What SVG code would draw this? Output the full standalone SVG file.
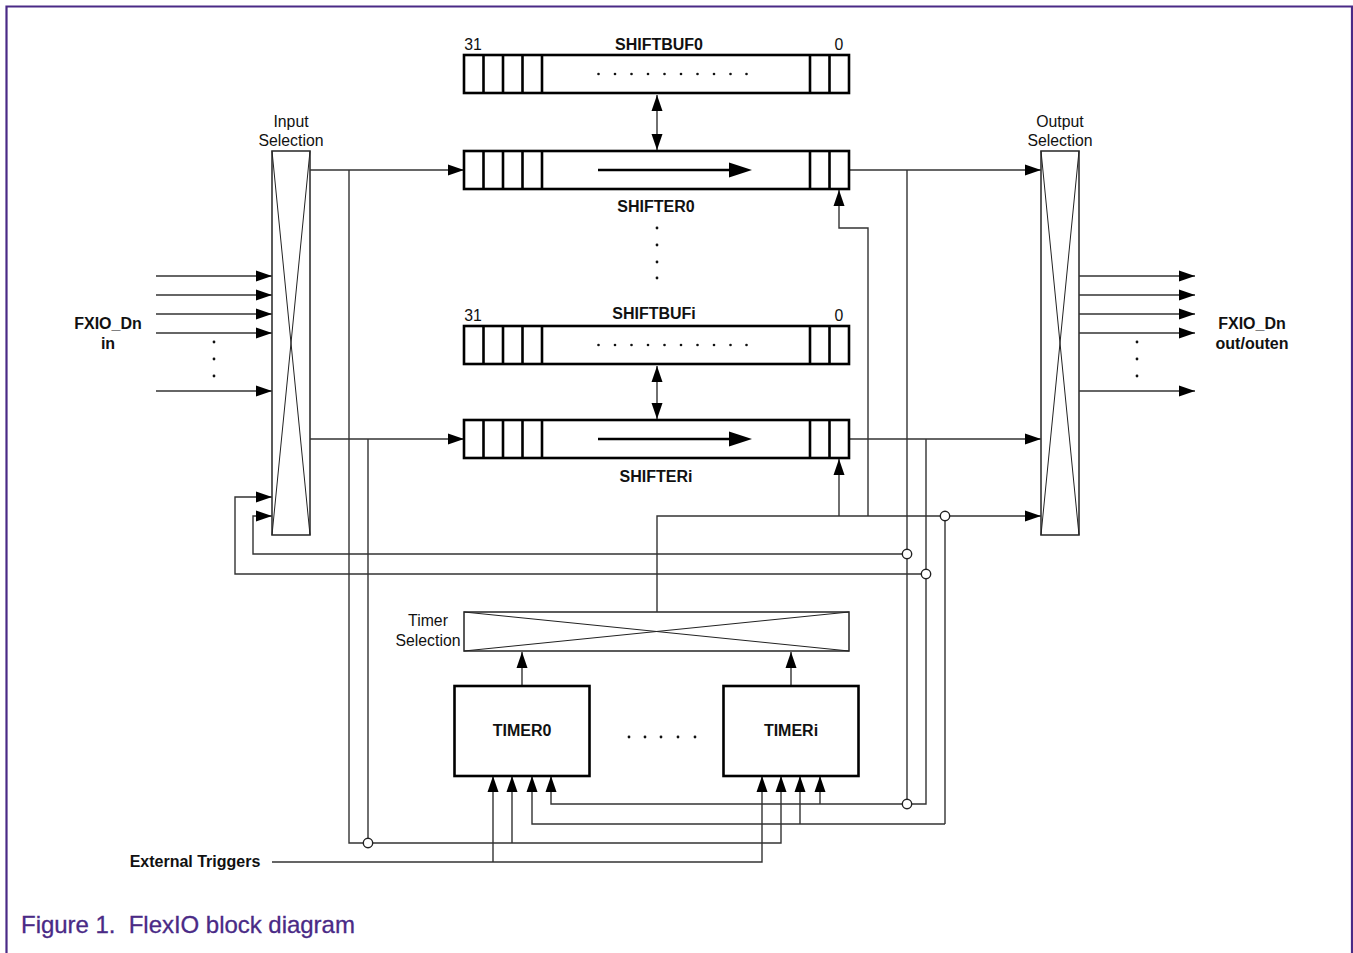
<svg xmlns="http://www.w3.org/2000/svg" width="1353" height="953" viewBox="0 0 1353 953">
<style>
text{font-family:"Liberation Sans",Arial,sans-serif;fill:#111}
.l{font-size:15.8px;text-anchor:middle}
.b{font-size:16px;font-weight:bold;text-anchor:middle}
.reg{fill:#fff;stroke:#000;stroke-width:2.6}
.th{fill:none;stroke:#333;stroke-width:1.6}
.x{fill:none;stroke:#222;stroke-width:1}
.w{fill:none;stroke:#333;stroke-width:1.4}
.a{fill:none;stroke:#333;stroke-width:1.4;marker-end:url(#ah)}
.j{fill:#fff;stroke:#222;stroke-width:1.4}
.d{fill:#111}
</style>
<defs>
<marker id="ah" markerUnits="userSpaceOnUse" markerWidth="16" markerHeight="12" refX="16" refY="6" orient="auto"><path d="M0 0.500L16 6L0 11.500Z" fill="#000"/></marker>
<marker id="ahs" markerUnits="userSpaceOnUse" markerWidth="16" markerHeight="12" refX="0" refY="6" orient="auto"><path d="M16 0.500L0 6L16 11.500Z" fill="#000"/></marker>
<marker id="big" markerUnits="userSpaceOnUse" markerWidth="24" markerHeight="16" refX="0" refY="8" orient="auto"><path d="M0 0.500L23 8L0 15.500Z" fill="#000"/></marker>
<g id="cells"><rect class="reg" x="464" y="0" width="385" height="38"/><path class="reg" d="M483.500 0V38M503 0V38M522.500 0V38M542 0V38M810 0V38M829.500 0V38"/></g>
<g id="dots"><circle class="d" cx="598.500" cy="0" r="1.300"/><circle class="d" cx="615" cy="0" r="1.300"/><circle class="d" cx="631.500" cy="0" r="1.300"/><circle class="d" cx="648" cy="0" r="1.300"/><circle class="d" cx="664.500" cy="0" r="1.300"/><circle class="d" cx="681" cy="0" r="1.300"/><circle class="d" cx="697.500" cy="0" r="1.300"/><circle class="d" cx="714" cy="0" r="1.300"/><circle class="d" cx="730.500" cy="0" r="1.300"/><circle class="d" cx="746.500" cy="0" r="1.300"/></g>
</defs>
<rect width="1353" height="953" fill="#fff"/>
<path d="M6.500 953V6.500H1352V953" fill="none" stroke="#4a2a86" stroke-width="2.2"/>

<g id="connectors">
<path class="a" d="M310 170H464"/>
<path class="a" d="M310 439H464"/>
<path class="a" d="M849 170H1041"/>
<path class="a" d="M849 439H1041"/>
<path class="a" d="M657 612V516H1041"/>
<path class="w" d="M349 170V843H368"/>
<path class="w" d="M368 439V843"/>
<path class="a" d="M368 843H781V776"/>
<path class="a" d="M512 843V776"/>
<path class="a" d="M272 862H762V776"/>
<path class="a" d="M493 862V776"/>
<path class="w" d="M907 170V804"/>
<path class="w" d="M926 439V804H907"/>
<path class="a" d="M907 804H551V776"/>
<path class="a" d="M820 804V776"/>
<path class="w" d="M945 516V824"/>
<path class="a" d="M945 824H532V776"/>
<path class="a" d="M800 824V776"/>
<path class="a" d="M907 554H253V516H272"/>
<path class="a" d="M926 574H235V497H272"/>
<path class="a" d="M868 516V228H839V190"/>
<path class="a" d="M839 516V459"/>
<path class="a" d="M156 276H272"/>
<path class="a" d="M156 295H272"/>
<path class="a" d="M156 314H272"/>
<path class="a" d="M156 333H272"/>
<path class="a" d="M156 391H272"/>
<path class="a" d="M1079 276H1195"/>
<path class="a" d="M1079 295H1195"/>
<path class="a" d="M1079 314H1195"/>
<path class="a" d="M1079 333H1195"/>
<path class="a" d="M1079 391H1195"/>
<path class="a" d="M657 95V150" marker-start="url(#ahs)"/>
<path class="a" d="M657 366V419" marker-start="url(#ahs)"/>
<path class="a" d="M522 686V652"/>
<path class="a" d="M791 686V652"/>
<circle class="j" cx="945" cy="516" r="4.700"/>
<circle class="j" cx="907" cy="554" r="4.700"/>
<circle class="j" cx="926" cy="574" r="4.700"/>
<circle class="j" cx="907" cy="804" r="4.700"/>
<circle class="j" cx="368" cy="843" r="4.700"/>
</g>

<g id="input-selection"><rect class="th" x="272" y="151" width="38" height="384"/><path class="x" d="M272 151L310 535M310 151L272 535"/>
<text class="l" x="291" y="127">Input</text><text class="l" x="291" y="146">Selection</text></g>
<g id="output-selection"><rect class="th" x="1041" y="151" width="38" height="384"/><path class="x" d="M1041 151L1079 535M1079 151L1041 535"/>
<text class="l" x="1060" y="127">Output</text><text class="l" x="1060" y="146">Selection</text></g>

<g id="shiftbuf0"><use href="#cells" y="55"/><use href="#dots" y="74"/>
<text class="l" x="473" y="50">31</text><text class="b" x="659" y="50">SHIFTBUF0</text><text class="l" x="839" y="50">0</text></g>
<g id="shifter0"><use href="#cells" y="151"/><path d="M598 170H729" fill="none" stroke="#000" stroke-width="2.600" marker-end="url(#big)"/>
<text class="b" x="656" y="212">SHIFTER0</text></g>
<g id="shiftbufi"><use href="#cells" y="326"/><use href="#dots" y="345"/>
<text class="l" x="473" y="321">31</text><text class="b" x="654" y="319">SHIFTBUFi</text><text class="l" x="839" y="321">0</text></g>
<g id="shifteri"><use href="#cells" y="420"/><path d="M598 439H729" fill="none" stroke="#000" stroke-width="2.600" marker-end="url(#big)"/>
<text class="b" x="656" y="482">SHIFTERi</text></g>

<g id="timer-selection"><rect class="th" x="464" y="612" width="385" height="39"/><path class="x" d="M464 612L849 651M849 612L464 651"/>
<text class="l" x="428" y="626">Timer</text><text class="l" x="428" y="646">Selection</text></g>
<g id="timer0"><rect class="reg" x="454.500" y="686" width="135" height="90"/><text class="b" x="522" y="736">TIMER0</text></g>
<g id="timeri"><rect class="reg" x="723.500" y="686" width="135" height="90"/><text class="b" x="791" y="736">TIMERi</text></g>

<g id="labels">
<text class="b" x="108" y="329">FXIO_Dn</text><text class="b" x="108" y="349">in</text>
<text class="b" x="1252" y="329">FXIO_Dn</text><text class="b" x="1252" y="349">out/outen</text>
<text class="b" x="195" y="867">External Triggers</text>
<text x="21" y="933" style="font-size:24px;fill:#4a2a86;stroke:#4a2a86;stroke-width:0.3;letter-spacing:-0.030px;white-space:pre">Figure 1.  FlexIO block diagram</text>
<g class="d"><circle cx="657" cy="228" r="1.400"/><circle cx="657" cy="245" r="1.400"/><circle cx="657" cy="262" r="1.400"/><circle cx="657" cy="278" r="1.400"/>
<circle cx="214" cy="342" r="1.400"/><circle cx="214" cy="359" r="1.400"/><circle cx="214" cy="376" r="1.400"/>
<circle cx="1137" cy="342" r="1.400"/><circle cx="1137" cy="359" r="1.400"/><circle cx="1137" cy="376" r="1.400"/>
<circle cx="629" cy="737" r="1.400"/><circle cx="645" cy="737" r="1.400"/><circle cx="661" cy="737" r="1.400"/><circle cx="678" cy="737" r="1.400"/><circle cx="695" cy="737" r="1.400"/></g>
</g>
</svg>
